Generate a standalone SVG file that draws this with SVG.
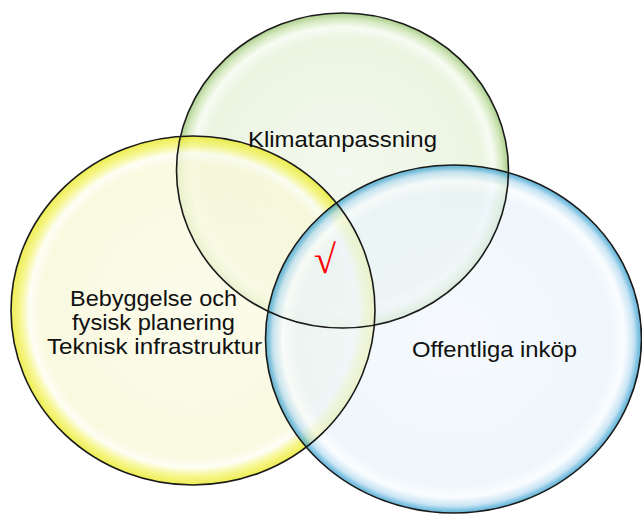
<svg xmlns="http://www.w3.org/2000/svg" width="642" height="514" viewBox="0 0 642 514">
  <style>
    .lbl { font-family: "Liberation Sans", Arial, sans-serif; font-size: 22px; fill: #111; }
    .ring { fill: none; stroke: #1a1a1a; stroke-width: 1.6; }
  </style>
  <defs>
    <radialGradient id="gGreen" cx="0.5" cy="0.5" r="0.5">
      <stop offset="0" stop-color="#f2f8ec"/>
      <stop offset="0.84" stop-color="#e8f3dc"/>
      <stop offset="0.91" stop-color="#f6fbf2"/>
      <stop offset="0.96" stop-color="#cfe6b6"/>
      <stop offset="1" stop-color="#9cc67a"/>
    </radialGradient>
    <radialGradient id="gYellow" cx="0.5" cy="0.5" r="0.5">
      <stop offset="0" stop-color="#fafae6"/>
      <stop offset="0.84" stop-color="#f8f8d8"/>
      <stop offset="0.9" stop-color="#fdfdf2"/>
      <stop offset="0.95" stop-color="#f4f470"/>
      <stop offset="1" stop-color="#e8e820"/>
    </radialGradient>
    <radialGradient id="gBlue" cx="0.5" cy="0.5" r="0.5">
      <stop offset="0" stop-color="#f2f7fc"/>
      <stop offset="0.84" stop-color="#e8f3fa"/>
      <stop offset="0.91" stop-color="#f8fcff"/>
      <stop offset="0.96" stop-color="#b4daf0"/>
      <stop offset="0.985" stop-color="#4aaad6"/>
      <stop offset="1" stop-color="#2f94c4"/>
    </radialGradient>
  </defs>

  <g id="node-klimatanpassning">
    <ellipse cx="342.5" cy="170.5" rx="166" ry="157.5" fill="url(#gGreen)" fill-opacity="0.85"/>
  </g>
  <g id="node-bebyggelse">
    <ellipse cx="193" cy="310.5" rx="182" ry="174.5" fill="url(#gYellow)" fill-opacity="0.78"/>
  </g>
  <g id="node-offentliga">
    <ellipse cx="453.5" cy="339" rx="188" ry="174" fill="url(#gBlue)" fill-opacity="0.72"/>
  </g>

  <g id="outlines">
    <ellipse class="ring" cx="342.5" cy="170.5" rx="166" ry="157.5"/>
    <ellipse class="ring" cx="193" cy="310.5" rx="182" ry="174.5"/>
    <ellipse class="ring" cx="453.5" cy="339" rx="188" ry="174"/>
  </g>

  <g id="labels">
    <text class="lbl" x="248" y="147" textLength="189" lengthAdjust="spacingAndGlyphs">Klimatanpassning</text>
    <text class="lbl" x="70" y="305.5" textLength="167" lengthAdjust="spacingAndGlyphs">Bebyggelse och</text>
    <text class="lbl" x="72" y="329.5" textLength="163" lengthAdjust="spacingAndGlyphs">fysisk planering</text>
    <text class="lbl" x="47" y="353.5" textLength="215" lengthAdjust="spacingAndGlyphs">Teknisk infrastruktur</text>
    <text class="lbl" x="412" y="357" textLength="165" lengthAdjust="spacingAndGlyphs">Offentliga inköp</text>
    <text x="314" y="273" style="font-family: 'Liberation Serif', 'Times New Roman', serif; font-size: 40px; fill: #ff0000;">√</text>
  </g>
</svg>
